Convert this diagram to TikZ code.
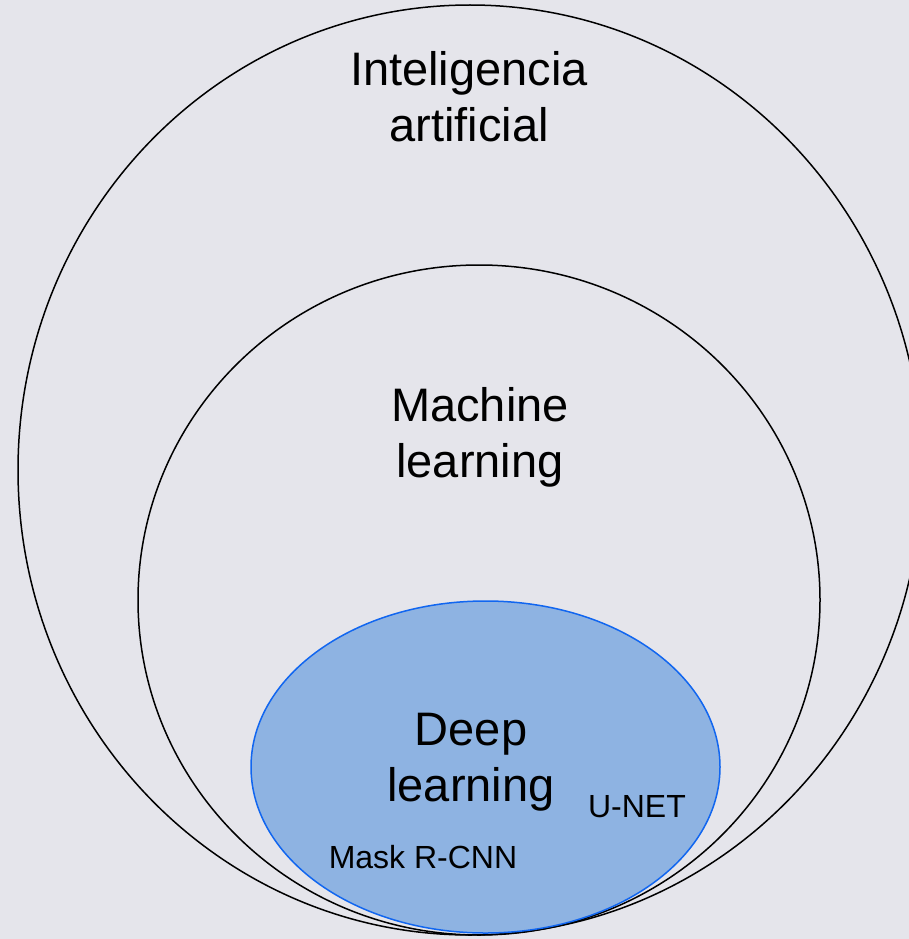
\documentclass[tikz,border=0pt]{standalone}
\usepackage{fontspec}
\setmainfont{Liberation Sans}
\definecolor{bg}{HTML}{E5E5EB}
\definecolor{dlfill}{HTML}{8EB3E2}
\definecolor{dlline}{HTML}{1166F0}
\tikzset{
  ring/.style={draw=black,line width=1.5pt},
  bigtext/.style={align=center,inner sep=0pt,font=\fontsize{47}{56}\selectfont},
  smalltext/.style={inner sep=0pt,font=\fontsize{32}{38}\selectfont}
}
\begin{document}
\begin{tikzpicture}[x=1pt,y=-1pt]
\useasboundingbox (0,0) rectangle (909,939);
\fill[bg] (0,0) rectangle (909,939);
\clip (0,0) rectangle (909,939);
\fill[dlfill] (485.5,767) ellipse [x radius=234.5, y radius=166];
\draw[ring] (470,470) ellipse [x radius=452, y radius=465];
\draw[ring] (479,600) ellipse [x radius=341, y radius=335];
\draw[dlline,line width=1.5pt] (485.5,767) ellipse [x radius=234.5, y radius=166];
\node[bigtext] (ia) at (469,97) {Inteligencia\\artificial};
\node[bigtext] (ml) at (480,437) {Machine\\learning};
\node[bigtext] (dl) at (471,762) {Deep\\learning};
\node[smalltext] (unet) at (637,807) {U-NET};
\node[smalltext] (mask) at (423,857) {Mask R-CNN};
\end{tikzpicture}
\end{document}
